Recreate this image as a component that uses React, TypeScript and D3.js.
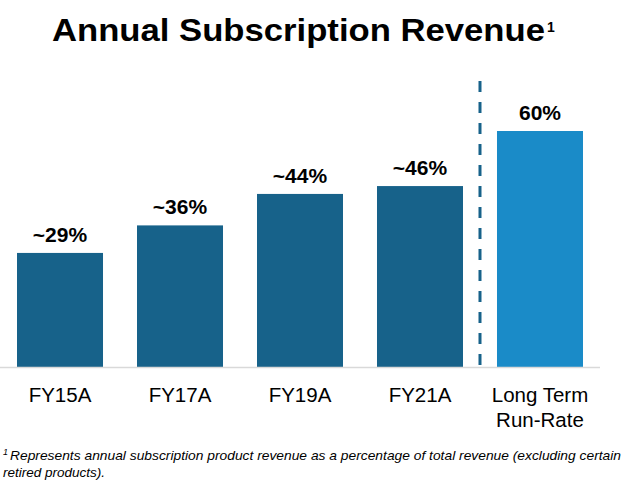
import React from "react";
import * as d3 from "d3";

const categories = ["FY15A", "FY17A", "FY19A", "FY21A", "Long Term\nRun-Rate"];
const values = [29, 36, 44, 46, 60];
const valueLabels = ["~29%", "~36%", "~44%", "~46%", "60%"];
const projected = [false, false, false, false, true];

const W = 628;
const H = 482;
const FONT = "'Liberation Sans', Arial, Helvetica, sans-serif";

export default function App() {
  const baseline = 367;
  const x = d3
    .scaleBand<number>()
    .domain(d3.range(categories.length))
    .range([0, 600])
    .paddingInner(0.2833)
    .paddingOuter(0.1417);
  const y = d3.scaleLinear().domain([0, 60]).range([baseline, 131]);
  const dashX = ((x(3) as number) + x.bandwidth() + (x(4) as number)) / 2;

  return (
    <svg
      width={W}
      height={H}
      style={{ position: "absolute", left: 0, top: 0, background: "#fff" }}
      fontFamily={FONT}
    >
      <text
        x={52}
        y={41}
        fontSize={30.5}
        fontWeight="bold"
        fill="#000"
        textLength={493}
        lengthAdjust="spacingAndGlyphs"
      >
        Annual Subscription Revenue
      </text>
      <text x={547} y={32} fontSize={14} fontWeight="bold" fill="#000">
        1
      </text>

      {values.map((v, i) => (
        <g key={i}>
          <rect
            x={x(i)}
            y={y(v)}
            width={x.bandwidth()}
            height={baseline - y(v)}
            fill={projected[i] ? "#1a8bc8" : "#17628a"}
          />
          <text
            x={(x(i) as number) + x.bandwidth() / 2}
            y={y(v) - 11}
            textAnchor="middle"
            fontSize={21}
            fontWeight="bold"
            fill="#000"
          >
            {valueLabels[i]}
          </text>
          {categories[i].split("\n").map((line, j) => (
            <text
              key={j}
              x={(x(i) as number) + x.bandwidth() / 2}
              y={402 + j * 25}
              textAnchor="middle"
              fontSize={20.5}
              fill="#000"
            >
              {line}
            </text>
          ))}
        </g>
      ))}

      <line x1={0} x2={600} y1={baseline + 0.5} y2={baseline + 0.5} stroke="#d9d9d9" strokeWidth={1.5} />
      <line
        x1={dashX}
        x2={dashX}
        y1={81}
        y2={baseline}
        stroke="#17628a"
        strokeWidth={3}
        strokeDasharray="11 10"
      />

      <text x={3} y={455} fontSize={9} fontStyle="italic" fill="#000">
        1
      </text>
      <text
        x={10}
        y={460}
        fontSize={13.5}
        fontStyle="italic"
        fill="#000"
        textLength={611}
        lengthAdjust="spacingAndGlyphs"
      >
        Represents annual subscription product revenue as a percentage of total revenue (excluding certain
      </text>
      <text x={3} y={477} fontSize={13.5} fontStyle="italic" fill="#000">
        retired products).
      </text>
    </svg>
  );
}
